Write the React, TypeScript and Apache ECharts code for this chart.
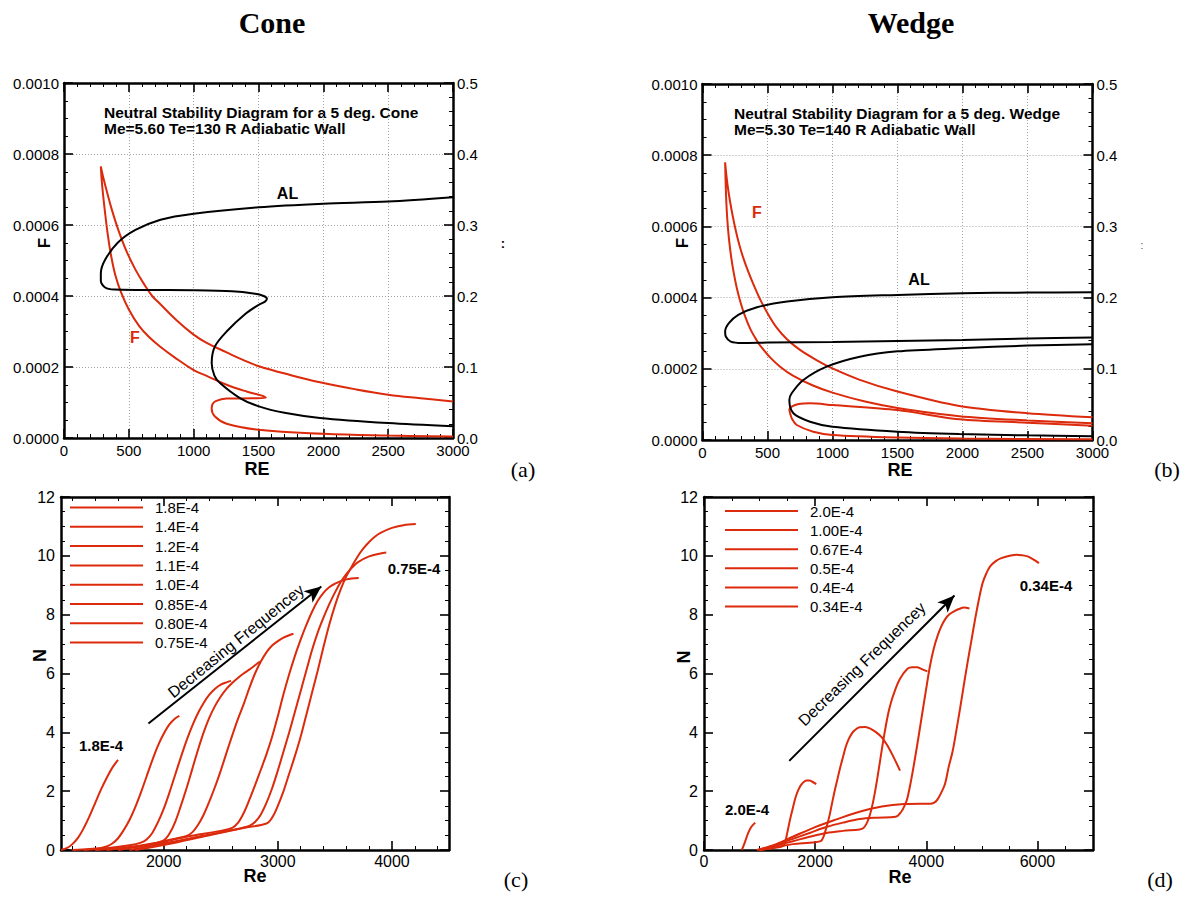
import React, { useEffect, useRef } from 'react';
import * as echarts from 'echarts';

// ---------------- Panel (a): 5 deg cone, neutral stability ----------------
const coneF_re = [3000, 2750, 2500, 2250, 1974, 1750, 1503, 1380, 1250, 1100, 997, 870, 740, 680, 620, 550, 480, 420, 370, 330, 300, 284,
  290, 300, 315, 335, 360, 395, 440, 500, 580, 660, 740, 850, 997, 1100, 1254, 1408, 1520, 1557,
  1450, 1254, 1170, 1145, 1139, 1164, 1254, 1500, 2000, 2500, 3000];
const coneF_f = [0.000103, 0.000112, 0.000122, 0.000137, 0.000157, 0.000177, 0.000202, 0.00022, 0.000242, 0.000268, 0.000292, 0.000331, 0.000378, 0.0004, 0.000432, 0.000475, 0.000528, 0.000585, 0.000642, 0.000695, 0.000738, 0.000765,
  0.00073, 0.00069, 0.00064, 0.00058, 0.00052, 0.00046, 0.00041, 0.000362, 0.000315, 0.000283, 0.000258, 0.000228, 0.000192, 0.000175, 0.00015, 0.000131, 0.00012, 0.000114,
  0.000112, 0.000111, 0.000104, 0.000095, 0.0000817, 0.0000608, 0.0000403, 0.0000234, 0.0000121, 0.000007, 0.000004];
const coneAL_re = [3000, 2500, 2000, 1500, 1000, 744, 551, 414, 317, 284, 284, 317, 386, 607, 1000, 1296, 1461, 1540, 1565, 1550, 1503, 1400, 1254, 1164, 1139, 1160, 1203, 1357, 1503, 1700, 1974, 2500, 3000];
const coneAL_v = [0.339, 0.333, 0.33, 0.325, 0.316, 0.3075, 0.293, 0.275, 0.251, 0.232, 0.221, 0.212, 0.209, 0.2085, 0.208, 0.2066, 0.2035, 0.2, 0.196, 0.192, 0.1877, 0.175, 0.15, 0.129, 0.1056, 0.088, 0.0775, 0.0563, 0.0445, 0.0355, 0.0282, 0.021, 0.0164];

// ---------------- Panel (b): 5 deg wedge ----------------
const wedgeF_re = [3000, 2500, 1975, 1500, 1210, 1000, 870, 750, 650, 572, 510, 450, 400, 355, 315, 282, 255, 232, 212, 195, 182, 174,
  176, 179, 183, 189, 197, 208, 222, 240, 262, 290, 325, 370, 420, 444, 520, 597, 699, 850, 1000, 1250, 1500, 1975, 2500, 3000];
const wedgeF_f = [0.0000637, 0.000075, 0.0000955, 0.000136, 0.000169, 0.000201, 0.000226, 0.000253, 0.000283, 0.000315, 0.00035, 0.00039, 0.00043, 0.00047, 0.00051, 0.00055, 0.00059, 0.00063, 0.00067, 0.00071, 0.00075, 0.00078,
  0.00075, 0.00071, 0.00067, 0.00063, 0.00059, 0.00055, 0.00051, 0.00047, 0.00043, 0.00039, 0.00035, 0.00031, 0.000278, 0.000265, 0.000232, 0.000206, 0.00018, 0.000153, 0.000133, 0.000108, 0.00009, 0.000067, 0.000055, 0.0000469];
const wedgeF2_re = [3000, 2500, 1975, 1500, 1000, 827, 740, 686, 668, 674, 690, 725, 852, 1000, 1500, 2000, 3000];
const wedgeF2_f = [0.0000403, 0.0000487, 0.0000581, 0.0000843, 0.0000983, 0.000103, 0.000101, 0.0000936, 0.000085, 0.000075, 0.000058, 0.0000421, 0.0000233, 0.0000143, 0.000007, 0.000004, 0.000002];
const wedgeAL1_re = [3000, 2500, 2000, 1500, 1000, 651, 419, 275, 203, 174, 179, 217, 304, 500, 1000, 1500, 2000, 2500, 3000];
const wedgeAL1_v = [0.2076, 0.207, 0.2062, 0.2038, 0.2006, 0.1945, 0.1865, 0.1757, 0.164, 0.1523, 0.1453, 0.1382, 0.1362, 0.1368, 0.1378, 0.139, 0.1404, 0.1425, 0.1439];
const wedgeAL2_re = [3000, 2500, 1975, 1500, 1210, 955, 776, 686, 668, 699, 827, 1000, 1500, 1975, 2500, 3000];
const wedgeAL2_v = [0.1345, 0.1326, 0.1288, 0.1245, 0.117, 0.103, 0.0843, 0.0656, 0.0562, 0.0375, 0.0257, 0.0187, 0.0117, 0.0084, 0.0065, 0.0052];

// ---------------- Panel (c): cone N-factors ----------------
const coneNames = ['1.8E-4', '1.4E-4', '1.2E-4', '1.1E-4', '1.0E-4', '0.85E-4', '0.80E-4', '0.75E-4'];
const c1_re = [1100, 1150, 1200, 1250, 1300, 1350, 1400, 1450, 1500, 1550, 1600];
const c1_n = [0, 0.06, 0.2, 0.42, 0.75, 1.15, 1.6, 2.05, 2.45, 2.8, 3.06];
const c2_re = [1200, 1350, 1450, 1500, 1550, 1600, 1650, 1700, 1750, 1800, 1850, 1900, 1950, 2000, 2050, 2100, 2137];
const c2_n = [0, 0.03, 0.07, 0.12, 0.22, 0.4, 0.68, 1.02, 1.45, 1.95, 2.5, 3.05, 3.55, 3.95, 4.27, 4.47, 4.56];
const c3_re = [1300, 1500, 1700, 1800, 1850, 1900, 1950, 2000, 2050, 2100, 2150, 2200, 2250, 2300, 2350, 2400, 2450, 2500, 2550, 2590];
const c3_n = [0, 0.06, 0.16, 0.25, 0.36, 0.58, 0.95, 1.4, 1.95, 2.55, 3.15, 3.72, 4.22, 4.65, 5.0, 5.28, 5.48, 5.62, 5.7, 5.75];
const c4_re = [1400, 1700, 1900, 2000, 2050, 2100, 2150, 2200, 2250, 2300, 2350, 2400, 2450, 2500, 2550, 2600, 2650, 2700, 2750, 2800, 2844];
const c4_n = [0, 0.1, 0.22, 0.33, 0.55, 0.95, 1.5, 2.1, 2.75, 3.4, 4.0, 4.5, 4.9, 5.22, 5.48, 5.68, 5.85, 6.0, 6.13, 6.28, 6.41];
const c5_re = [1500, 1800, 2000, 2200, 2250, 2300, 2350, 2400, 2450, 2500, 2550, 2600, 2650, 2700, 2750, 2800, 2850, 2900, 2950, 3000, 3050, 3100, 3137];
const c5_n = [0, 0.14, 0.3, 0.48, 0.6, 0.85, 1.2, 1.65, 2.15, 2.7, 3.3, 3.89, 4.45, 4.95, 5.5, 6.0, 6.4, 6.72, 6.95, 7.1, 7.22, 7.3, 7.35];
const c6_re = [1600, 1900, 2200, 2500, 2600, 2650, 2700, 2750, 2800, 2850, 2900, 2950, 3000, 3050, 3100, 3150, 3200, 3250, 3300, 3350, 3400, 3450, 3500, 3600, 3709];
const c6_n = [0, 0.2, 0.45, 0.65, 0.75, 0.92, 1.25, 1.7, 2.2, 2.72, 3.25, 3.85, 4.55, 5.3, 5.98, 6.6, 7.15, 7.65, 8.1, 8.47, 8.74, 8.93, 9.05, 9.2, 9.25];
const c7_re = [1700, 2000, 2300, 2600, 2750, 2800, 2850, 2900, 2950, 3000, 3050, 3100, 3150, 3200, 3250, 3300, 3350, 3400, 3450, 3500, 3550, 3600, 3650, 3700, 3800, 3900, 3950];
const c7_n = [0, 0.22, 0.45, 0.68, 0.82, 0.95, 1.2, 1.6, 2.1, 2.7, 3.35, 4.0, 4.7, 5.4, 6.1, 6.8, 7.4, 7.9, 8.35, 8.75, 9.1, 9.38, 9.6, 9.78, 9.98, 10.08, 10.11];
const c8_re = [1750, 2100, 2400, 2700, 2900, 2950, 3000, 3050, 3100, 3150, 3200, 3250, 3300, 3350, 3400, 3450, 3500, 3550, 3600, 3650, 3700, 3750, 3800, 3850, 3900, 4000, 4100, 4209];
const c8_n = [0, 0.25, 0.5, 0.75, 0.9, 1.1, 1.5, 2.0, 2.6, 3.2, 3.85, 4.6, 5.35, 6.1, 6.9, 7.65, 8.3, 8.85, 9.3, 9.65, 9.98, 10.25, 10.47, 10.65, 10.78, 10.95, 11.04, 11.08];

// ---------------- Panel (d): wedge N-factors ----------------
const wedgeNames = ['2.0E-4', '1.00E-4', '0.67E-4', '0.5E-4', '0.4E-4', '0.34E-4'];
const d1_re = [680, 720, 760, 800, 850, 920];
const d1_n = [0, 0.18, 0.4, 0.6, 0.78, 0.93];
const d2_re = [1000, 1200, 1400, 1450, 1500, 1550, 1600, 1650, 1700, 1750, 1800, 1850, 1900, 1950, 2020];
const d2_n = [0, 0.05, 0.12, 0.2, 0.6, 1.05, 1.44, 1.8, 2.05, 2.22, 2.32, 2.36, 2.36, 2.32, 2.24];
const d3_re = [1000, 1300, 1600, 1900, 2100, 2150, 2200, 2250, 2300, 2350, 2400, 2450, 2500, 2550, 2600, 2650, 2700, 2800, 2900, 3000, 3100, 3200, 3300, 3400, 3527];
const d3_n = [0, 0.1, 0.2, 0.25, 0.3, 0.45, 0.75, 1.1, 1.55, 2.0, 2.4, 2.8, 3.15, 3.5, 3.75, 3.93, 4.05, 4.17, 4.18, 4.12, 4.0, 3.83, 3.55, 3.2, 2.7];
const d4_re = [1000, 1300, 1600, 1900, 2200, 2500, 2800, 2870, 2920, 2970, 3020, 3070, 3120, 3170, 3220, 3270, 3320, 3370, 3426, 3527, 3662, 3750, 3831, 3920, 4020];
const d4_n = [0, 0.15, 0.3, 0.45, 0.58, 0.65, 0.7, 0.75, 0.88, 1.1, 1.44, 1.9, 2.45, 3.05, 3.65, 4.2, 4.68, 5.05, 5.37, 5.82, 6.16, 6.21, 6.21, 6.15, 6.07];
const d5_re = [1000, 1300, 1600, 1900, 2200, 2500, 2800, 3100, 3450, 3550, 3620, 3662, 3730, 3797, 3865, 3932, 4000, 4068, 4135, 4203, 4270, 4338, 4420, 4507, 4600, 4676, 4777];
const d5_n = [0, 0.18, 0.38, 0.58, 0.78, 0.93, 1.05, 1.1, 1.13, 1.3, 1.55, 1.78, 2.4, 3.12, 3.9, 4.7, 5.5, 6.27, 6.85, 7.28, 7.6, 7.84, 8.02, 8.12, 8.2, 8.24, 8.21];
const d6_re = [950, 1300, 1600, 2000, 2400, 2800, 3200, 3600, 3900, 4068, 4150, 4203, 4270, 4338, 4400, 4473, 4540, 4608, 4675, 4743, 4810, 4878, 4945, 5014, 5080, 5149, 5250, 5351, 5500, 5622, 5724, 5824, 5925, 6027];
const d6_n = [0, 0.2, 0.45, 0.78, 1.05, 1.3, 1.48, 1.56, 1.57, 1.57, 1.62, 1.72, 1.95, 2.25, 2.8, 3.35, 4.05, 4.81, 5.6, 6.38, 7.1, 7.84, 8.5, 9.08, 9.4, 9.64, 9.82, 9.92, 10.0, 10.04, 10.02, 9.98, 9.88, 9.75];

// tick values
const coneMajorX = [2000, 3000, 4000];
const coneMinorX = [1200, 1400, 1600, 1800, 2200, 2400, 2600, 2800, 3200, 3400, 3600, 3800, 4200, 4400];
const wedgeMajorX = [0, 2000, 4000, 6000];
const wedgeMinorX = [500, 1000, 1500, 2500, 3000, 3500, 4500, 5000, 5500, 6500];

// arrows (data coordinates)
const coneArrow = [[1866, 4.3], [3381, 8.96]];
const wedgeArrow = [[1534, 3.03], [4507, 8.65]];

const RED = '#dc2a0c';
const SANS = "'Liberation Sans', Arial, Helvetica, sans-serif";
const SERIF = "'Liberation Serif', 'Times New Roman', serif";

const zip = (a: number[], b: number[]) => a.map((v, i) => [v, b[i]]);
const plain = (v: number) => String(Math.round(v));

const AXL = { show: true, onZero: false, lineStyle: { color: '#000', width: 2.5 } };
const MAJ_TICK = { show: true, inside: true, length: 9, lineStyle: { color: '#000', width: 1.6 } };
const MIN_TICK = (n: number) => ({ show: true, splitNumber: n, length: 4, lineStyle: { color: '#000', width: 1 } });
const GRIDLINE = { show: true, lineStyle: { color: '#8a8a8a', width: 0.8, type: [1, 2] } };
const NOLABEL = { show: false };

function lbl(size: number, margin: number, extra: any = {}) {
  return { show: true, color: '#000', fontSize: size, fontFamily: SANS, margin, ...extra };
}

export default function App() {
  const ref = useRef<HTMLDivElement>(null);

  useEffect(() => {
    if (!ref.current) return;
    const chart = echarts.init(ref.current, null, { renderer: 'svg' });

    const grids = [
      { left: 64, top: 83, width: 389, height: 355 },
      { left: 702.5, top: 84, width: 390, height: 356 },
      { left: 61, top: 497, width: 388, height: 353 },
      { left: 704, top: 497, width: 389, height: 353 },
    ].map((g) => ({ ...g, show: false, containLabel: false, outerBoundsMode: 'none' }));

    const stabX = (gi: number, pos: string, labels: boolean) => ({
      type: 'value', gridIndex: gi, position: pos, min: 0, max: 3000, interval: 500,
      axisLine: AXL, axisTick: MAJ_TICK, minorTick: MIN_TICK(5),
      axisLabel: labels ? lbl(15, 6, { formatter: plain, lineHeight: 12 }) : NOLABEL,
      splitLine: labels ? GRIDLINE : { show: false },
    });
    const stabYL = (gi: number) => ({
      type: 'value', gridIndex: gi, position: 'left', min: 0, max: 0.001, interval: 0.0002,
      axisLine: AXL, axisTick: MAJ_TICK, minorTick: MIN_TICK(4),
      axisLabel: lbl(15, 5, { formatter: (v: number) => v.toFixed(4) }),
      splitLine: GRIDLINE,
    });
    const stabYR = (gi: number) => ({
      type: 'value', gridIndex: gi, position: 'right', min: 0, max: 0.5, interval: 0.1,
      axisLine: AXL, axisTick: MAJ_TICK, minorTick: MIN_TICK(5),
      axisLabel: lbl(15, 4, { formatter: (v: number) => v.toFixed(1), lineHeight: 12 }),
      splitLine: { show: false },
    });
    const customX = (gi: number, pos: string, min: number, max: number, vals: number[], major: boolean, labels: boolean) => ({
      type: 'value', gridIndex: gi, position: pos, min, max,
      axisLine: major ? AXL : { show: false, onZero: false },
      axisTick: { ...(major ? MAJ_TICK : { show: true, inside: true, length: 4, lineStyle: { color: '#000', width: 1 } }), customValues: vals },
      axisLabel: labels ? { ...lbl(16, 3, { formatter: plain }), customValues: vals } : NOLABEL,
      splitLine: { show: false },
    });
    const nY = (gi: number, pos: string, labels: boolean) => ({
      type: 'value', gridIndex: gi, position: pos, min: 0, max: 12, interval: 2,
      axisLine: AXL, axisTick: MAJ_TICK, minorTick: MIN_TICK(4),
      axisLabel: labels ? lbl(16, 6, { formatter: plain }) : NOLABEL,
      splitLine: { show: false },
    });

    const xAxis = [
      stabX(0, 'bottom', true), stabX(0, 'top', false),
      stabX(1, 'bottom', true), stabX(1, 'top', false),
      customX(2, 'bottom', 1100, 4500, coneMajorX, true, true),
      customX(2, 'bottom', 1100, 4500, coneMinorX, false, false),
      customX(2, 'top', 1100, 4500, coneMajorX, true, false),
      customX(2, 'top', 1100, 4500, coneMinorX, false, false),
      customX(3, 'bottom', 0, 7000, wedgeMajorX, true, true),
      customX(3, 'bottom', 0, 7000, wedgeMinorX, false, false),
      customX(3, 'top', 0, 7000, wedgeMajorX, true, false),
      customX(3, 'top', 0, 7000, wedgeMinorX, false, false),
    ];
    const yAxis = [
      stabYL(0), stabYR(0), stabYL(1), stabYR(1),
      nY(2, 'left', true), nY(2, 'right', false),
      nY(3, 'left', true), nY(3, 'right', false),
    ];

    const line = (name: string, data: number[][], xi: number, yi: number, color: string, smooth = 0.3) => ({
      type: 'line', name, data, xAxisIndex: xi, yAxisIndex: yi,
      symbol: 'none', showSymbol: false, smooth, silent: true,
      lineStyle: { color, width: 2 }, itemStyle: { color },
    });

    const arrowMark = (pts: number[][]) => ({
      silent: true, symbol: ['none', 'arrow'], symbolSize: [11, 17],
      lineStyle: { color: '#000', width: 2, type: 'solid' },
      itemStyle: { color: '#000' },
      label: { show: false },
      data: [[{ coord: pts[0] }, { coord: pts[1] }]],
    });

    const coneSets = [[c1_re, c1_n], [c2_re, c2_n], [c3_re, c3_n], [c4_re, c4_n], [c5_re, c5_n], [c6_re, c6_n], [c7_re, c7_n], [c8_re, c8_n]];
    const wedgeSets = [[d1_re, d1_n], [d2_re, d2_n], [d3_re, d3_n], [d4_re, d4_n], [d5_re, d5_n], [d6_re, d6_n]];

    const series: any[] = [
      line('F cone', zip(coneF_re, coneF_f), 0, 0, RED, 0.4),
      line('AL cone', zip(coneAL_re, coneAL_v), 0, 1, '#000'),
      line('F wedge', zip(wedgeF_re, wedgeF_f), 2, 2, RED),
      line('F wedge 2', zip(wedgeF2_re, wedgeF2_f), 2, 2, RED),
      line('AL wedge 1', zip(wedgeAL1_re, wedgeAL1_v), 2, 3, '#000'),
      line('AL wedge 2', zip(wedgeAL2_re, wedgeAL2_v), 2, 3, '#000'),
    ];
    coneSets.forEach((s, i) => {
      const sr: any = line(coneNames[i], zip(s[0], s[1]), 4, 4, RED, 0.35);
      if (i === coneSets.length - 1) sr.markLine = arrowMark(coneArrow);
      series.push(sr);
    });
    wedgeSets.forEach((s, i) => {
      const sr: any = line(wedgeNames[i], zip(s[0], s[1]), 8, 6, RED, 0.35);
      if (i === wedgeSets.length - 1) sr.markLine = arrowMark(wedgeArrow);
      series.push(sr);
    });

    const legendBase = {
      orient: 'vertical', itemWidth: 73, itemHeight: 14, padding: 0, selectedMode: false,
      itemStyle: { opacity: 0, color: 'rgba(0,0,0,0)', borderColor: 'rgba(0,0,0,0)', borderWidth: 0 },
      lineStyle: { width: 2, color: RED, opacity: 1 },
      textStyle: { fontSize: 15, color: '#000', fontFamily: SANS, lineHeight: 14, padding: [0, 0, 0, 7] },
    };
    const legend = [
      { ...legendBase, data: coneNames, left: 69, top: 500, itemGap: 4.3 },
      { ...legendBase, data: wedgeNames, left: 724, top: 503.5, itemGap: 4.1 },
    ];

    const txt = (text: string, x: number, y: number, font: string, fill = '#000', rot = 0, align = 'center') => ({
      type: 'text', x, y, rotation: rot, silent: true,
      style: { text, font, fill, align, textAlign: align, verticalAlign: 'middle', textVerticalAlign: 'middle' },
    });
    const deg = Math.PI / 180;
    const graphic = [
      txt('Cone', 272, 22, `bold 30px ${SERIF}`),
      txt('Wedge', 911, 22, `bold 30px ${SERIF}`),
      txt('Neutral Stability Diagram for a 5 deg. Cone', 104, 112, `bold 15.5px ${SANS}`, '#000', 0, 'left'),
      txt('Me=5.60 Te=130 R Adiabatic Wall', 104, 128, `bold 15.5px ${SANS}`, '#000', 0, 'left'),
      txt('Neutral Stability Diagram for a 5 deg. Wedge', 734, 113, `bold 15.5px ${SANS}`, '#000', 0, 'left'),
      txt('Me=5.30 Te=140 R Adiabatic Wall', 734, 129, `bold 15.5px ${SANS}`, '#000', 0, 'left'),
      txt('AL', 287.5, 193, `bold 16px ${SANS}`),
      txt('F', 135, 337, `bold 16px ${SANS}`, RED),
      txt('AL', 919, 279, `bold 16px ${SANS}`),
      txt('F', 757, 212, `bold 16px ${SANS}`, RED),
      txt('F', 44.5, 243, `bold 17px ${SANS}`, '#000', 90 * deg),
      txt('F', 682.5, 243, `bold 17px ${SANS}`, '#000', 90 * deg),
      txt('RE', 257, 469, `bold 18px ${SANS}`),
      txt('RE', 900, 470, `bold 18px ${SANS}`),
      txt(':', 503, 243, `bold 13px ${SANS}`),
      txt(':', 1142, 245, `10px ${SANS}`, '#444'),
      txt('N', 40, 655.5, `bold 18px ${SANS}`, '#000', 90 * deg),
      txt('N', 683.5, 657, `bold 18px ${SANS}`, '#000', 90 * deg),
      txt('Re', 255, 876, `bold 18px ${SANS}`),
      txt('Re', 900, 877, `bold 18px ${SANS}`),
      txt('(a)', 523, 469, `22px ${SERIF}`),
      txt('(b)', 1167, 469, `22px ${SERIF}`),
      txt('(c)', 516, 879, `22px ${SERIF}`),
      txt('(d)', 1160, 879, `22px ${SERIF}`),
      txt('1.8E-4', 101, 745, `bold 15px ${SANS}`),
      txt('0.75E-4', 414, 568, `bold 15px ${SANS}`),
      txt('2.0E-4', 747, 809, `bold 15px ${SANS}`),
      txt('0.34E-4', 1046, 585, `bold 15px ${SANS}`),
      txt('Decreasing Frequencey', 236, 641, `16px ${SANS}`, '#000', 39 * deg),
      txt('Decreasing Frequencey', 862, 664, `16px ${SANS}`, '#000', 44 * deg),
    ];

    chart.setOption({
      animation: false,
      backgroundColor: '#fff',
      textStyle: { fontFamily: SANS },
      grid: grids,
      xAxis,
      yAxis,
      legend,
      series,
      graphic,
    });

    return () => chart.dispose();
  }, []);

  return (
    <div
      ref={ref}
      style={{ position: 'absolute', left: 0, top: 0, width: 1188, height: 897, background: '#fff' }}
    />
  );
}
